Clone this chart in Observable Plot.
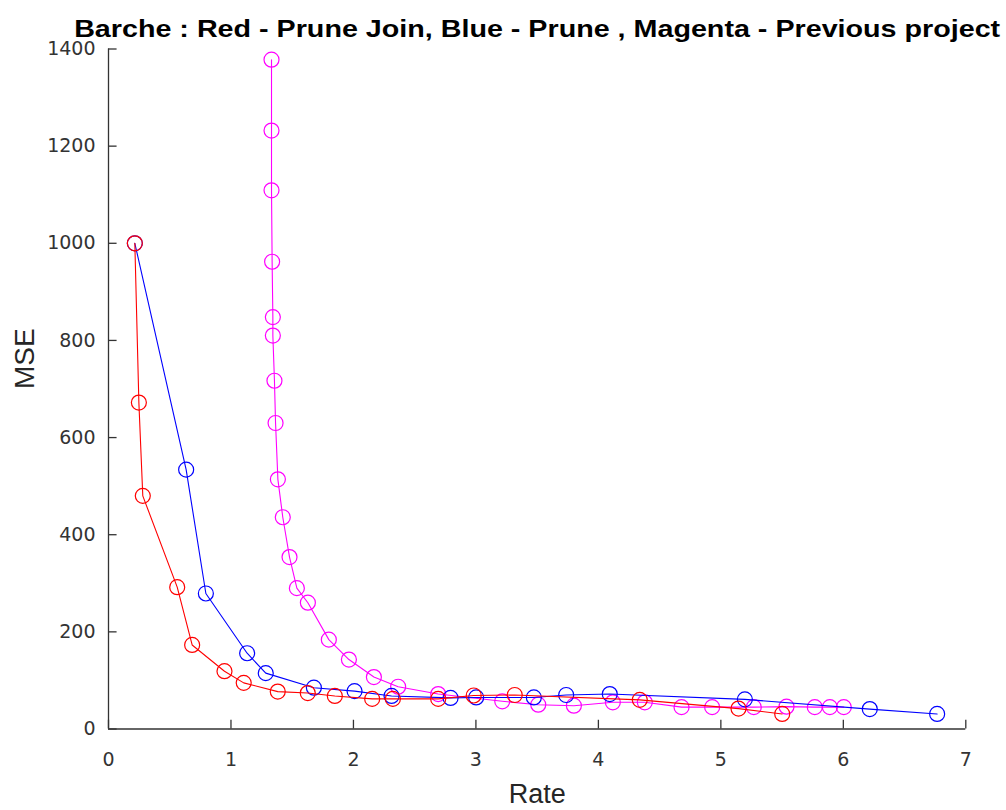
<!DOCTYPE html>
<html>
<head>
<meta charset="utf-8">
<script src="https://cdn.jsdelivr.net/npm/d3@7"></script>
<script src="https://cdn.jsdelivr.net/npm/@observablehq/plot@0.6"></script>
<style>
  html, body { margin: 0; padding: 0; background: #fff; }
  #chart svg { display: block; overflow: visible; }
</style>
</head>
<body>
<div id="chart"></div>
<script>
const titleText = "Barche : Red - Prune Join, Blue - Prune , Magenta - Previous project";
const xLabel = "Rate";
const yLabel = "MSE";
const xTicks = [0, 1, 2, 3, 4, 5, 6, 7];
const yTicks = [0, 200, 400, 600, 800, 1000, 1200, 1400];

// Red - Prune Join
const redRate = [0.215, 0.248, 0.280, 0.561, 0.683, 0.947, 1.104, 1.382, 1.627, 1.848, 2.153, 2.322, 2.692, 2.982, 3.317, 4.338, 5.144, 5.501];
const redMSE  = [1000, 672, 480, 292, 173, 119, 95, 77, 74, 68, 62, 62, 62, 69, 70, 60, 42, 31];

// Blue - Prune
const blueRate = [0.215, 0.634, 0.795, 1.132, 1.284, 1.677, 2.009, 2.311, 2.793, 3.002, 3.473, 3.737, 4.093, 5.196, 6.216, 6.766];
const blueMSE  = [1000, 534, 279, 156, 115, 85, 78, 68, 64, 65, 65, 70, 72, 61, 41, 31];

// Magenta - Previous project
const magRate = [1.331, 1.331, 1.331, 1.336, 1.342, 1.342, 1.355, 1.364, 1.383, 1.423, 1.478, 1.538, 1.628, 1.799, 1.963, 2.167, 2.365, 2.692, 3.215, 3.509, 3.800, 4.118, 4.379, 4.679, 4.929, 5.269, 5.536, 5.767, 5.890, 6.004];
const magMSE  = [1378, 1232, 1109, 962, 848, 810, 717, 630, 514, 436, 354, 290, 260, 184, 143, 107, 87, 72, 57, 50, 48, 55, 55, 45, 45, 45, 46, 45, 45, 45];

const toRows = (xs, ys) => xs.map((x, i) => ({x, y: ys[i]}));
const red = toRows(redRate, redMSE);
const blue = toRows(blueRate, blueMSE);
const mag = toRows(magRate, magMSE);

const axisColor = "#333";
const series = [
  {data: mag, color: "#ff00ff"},
  {data: blue, color: "#0000ff"},
  {data: red, color: "#ff0000"}
];

const marks = [
  Plot.axisX({ticks: xTicks, tickFormat: d => String(d), tickSize: 0, tickPadding: 23, label: null, fontSize: 19, fontFamily: "DejaVu Sans", fill: axisColor}),
  Plot.axisY({ticks: yTicks, tickFormat: d => String(d), tickSize: 0, tickPadding: 13, label: null, fontSize: 19, fontFamily: "DejaVu Sans", fill: axisColor}),
  Plot.ruleY([0], {stroke: axisColor, strokeWidth: 1.3}),
  Plot.ruleX([0], {stroke: axisColor, strokeWidth: 1.3}),
  Plot.ruleY(yTicks, {y: d => d, x1: 0, x2: 0.07, stroke: axisColor, strokeWidth: 1.3}),
  Plot.ruleX(xTicks, {x: d => d, y1: 0, y2: 18, stroke: axisColor, strokeWidth: 1.3})
];
for (const s of series) {
  marks.push(Plot.line(s.data, {x: "x", y: "y", stroke: s.color, strokeWidth: 1.1}));
  marks.push(Plot.dot(s.data, {x: "x", y: "y", r: 7.5, stroke: s.color, fill: "none", strokeWidth: 1.2}));
}
marks.push(Plot.text([titleText], {text: d => d, frameAnchor: "top", dy: -12.5, lineAnchor: "bottom", fontSize: 24, fontWeight: "bold", fontFamily: "Liberation Sans, Arial, sans-serif", fill: "#000", className: "ttl"}));
marks.push(Plot.text([xLabel], {text: d => d, frameAnchor: "bottom", dy: 74, lineAnchor: "bottom", fontSize: 27, fontFamily: "Liberation Sans, Arial, sans-serif", fill: "#262626"}));
marks.push(Plot.text([yLabel], {text: d => d, frameAnchor: "left", dx: -74.7, rotate: -90, lineAnchor: "bottom", fontSize: 28, fontFamily: "Liberation Sans, Arial, sans-serif", fill: "#262626"}));

const chart = Plot.plot({
  width: 1006,
  height: 810,
  marginLeft: 108,
  marginRight: 40.7,
  marginTop: 48.5,
  marginBottom: 81.5,
  x: {domain: [0, 7]},
  y: {domain: [0, 1400]},
  style: {background: "#fff", overflow: "visible"},
  marks
});
document.getElementById("chart").appendChild(chart);
const t = chart.querySelector("g.ttl text, .ttl text");
if (t) { t.setAttribute("textLength", 926); t.setAttribute("lengthAdjust", "spacingAndGlyphs"); }
</script>
</body>
</html>
